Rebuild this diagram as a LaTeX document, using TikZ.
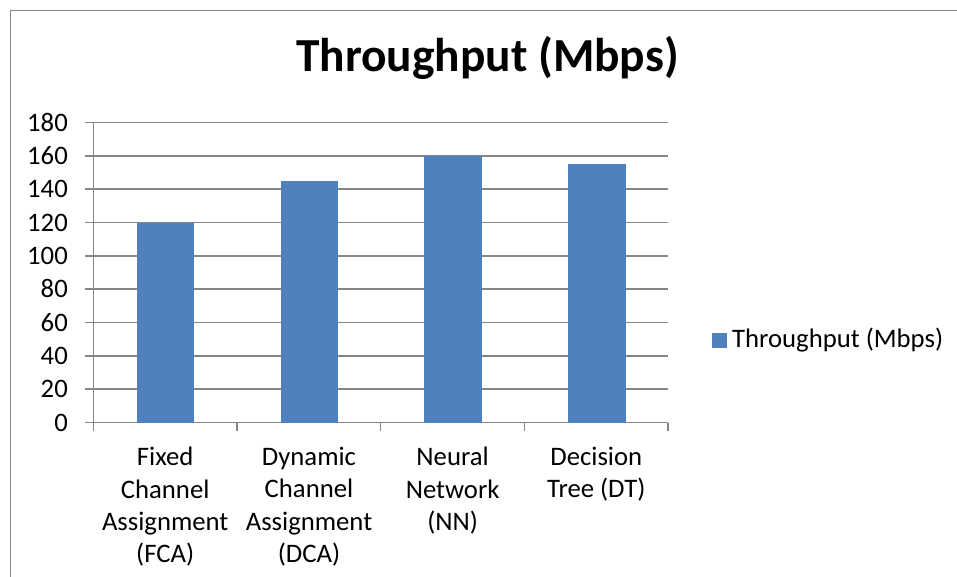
\documentclass[tikz,border=0pt]{standalone}
\usepackage{fontspec}
\setmainfont{Carlito}
\definecolor{barblue}{HTML}{4F81BD}
\definecolor{gridgray}{HTML}{868686}
\definecolor{framegray}{HTML}{898989}
\begin{document}
\begin{tikzpicture}[x=1pt,y=-1pt,
  gridline/.style={draw=gridgray,line width=1.4pt},
  bar/.style={fill=barblue,draw=none},
  ylab/.style={anchor=base east,inner sep=0pt,font=\fontsize{26.7}{32}\selectfont},
  xlab/.style={anchor=north,inner sep=0pt,align=center,font=\fontsize{26.7}{32.3}\selectfont},
  ttl/.style={anchor=base,inner sep=0pt,font=\fontsize{47.4}{56}\selectfont\bfseries}]
\useasboundingbox (0,0) rectangle (957,576);
\fill[white] (0,0) rectangle (957,576);
% outer frame (cropped on right and bottom)
\draw[framegray,line width=1.4pt] (10.5,577) -- (10.5,10.5) -- (958,10.5);
% gridlines and y ticks
\foreach \v in {20,40,...,180}{
  \draw[gridline] (85,{422.5-\v*5/3}) -- (668,{422.5-\v*5/3});
}
\draw[gridline] (85,422.5) -- (668,422.5);
\draw[gridline] (93.3,122.5) -- (93.3,422.5);
\foreach \x in {93.3,237,380.7,524.3,668}{
  \draw[gridline] (\x,422.5) -- (\x,430.5);
}
% y labels
\foreach \v in {0,20,...,180}{
  \node[ylab] (y\v) at (68,{422.5-\v*5/3+8.7}) {\v};
}
% bars
\fill[bar] (136.5,{422.5-120*5/3}) rectangle (194,422.5);
\fill[bar] (280.7,{422.5-145*5/3}) rectangle (338.2,422.5);
\fill[bar] (424.4,{422.5-160*5/3}) rectangle (481.9,422.5);
\fill[bar] (568.1,{422.5-155*5/3}) rectangle (625.6,422.5);
% x labels
\node[xlab] (c1) at (165.2,447) {Fixed\\Channel\\Assignment\\(FCA)};
\node[xlab] (c2) at (309,447) {Dynamic\\Channel\\Assignment\\(DCA)};
\node[xlab] (c3) at (452.6,447) {Neural\\Network\\(NN)};
\node[xlab] (c4) at (596.3,447) {Decision\\Tree (DT)};
% title
\node[ttl] (title) at (487.5,71.7) {Throughput (Mbps)};
% legend
\fill[barblue] (712.3,332.7) rectangle (726.7,347.7);
\node[anchor=base west,inner sep=0pt,font=\fontsize{26.7}{32}\selectfont] (leg) at (732,347.7) {Throughput (Mbps)};
\end{tikzpicture}
\end{document}
